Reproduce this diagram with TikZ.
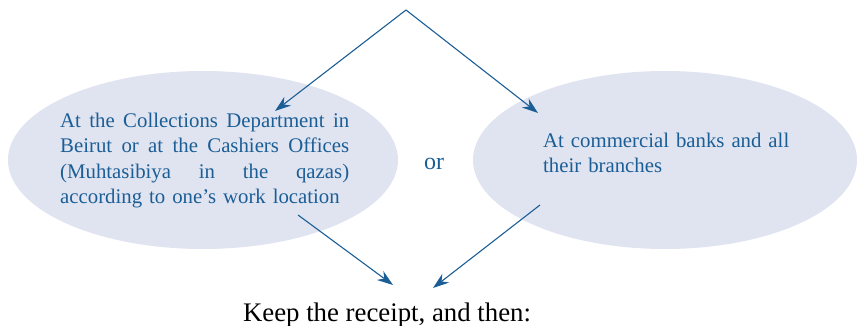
\documentclass[tikz,border=0pt]{standalone}
\usepackage{fontspec}
\setmainfont{Liberation Serif}
\usetikzlibrary{arrows.meta}
\definecolor{dblue}{HTML}{1B5E96}
\definecolor{ellfill}{HTML}{E0E4F0}
\newcommand{\jline}[1]{\leavevmode\hbox to 289pt{#1}}
\tikzset{
  link/.style={draw=dblue, line width=1.1pt, -{Stealth[length=16pt,width=11pt]}},
  txt/.style={text=dblue, font=\fontsize{20.8}{25.3}\selectfont, align=left, inner sep=0pt},
}
\begin{document}
\begin{tikzpicture}[x=1pt,y=-1pt]
\useasboundingbox (0,0) rectangle (857,326);
\fill[ellfill] (203,160) ellipse [x radius=195, y radius=89];
\fill[ellfill] (665,160) ellipse [x radius=192, y radius=89];
\node[txt, text width=289pt, anchor=north west] (lt) at (60,113) {\jline{At \hfill the \hfill Collections \hfill Department \hfill in}\\\jline{Beirut \hfill or \hfill at \hfill the \hfill Cashiers \hfill Offices}\\\jline{(Muhtasibiya \hfill in \hfill the \hfill qazas)}\\according to one’s work location};
\node[txt, text width=260pt, anchor=north west] (rt) at (543,133) {At commercial banks and all\\their branches};
\node[text=dblue, font=\fontsize{24}{28}\selectfont, inner sep=0pt, anchor=base] (or) at (434,169) {or};
\node[font=\fontsize{26.8}{30}\selectfont, inner sep=0pt, anchor=base] (keep) at (387,321) {Keep the receipt, and then:};
\coordinate (top) at (406,10);
\coordinate (la) at (275,111);
\coordinate (ra) at (538,113);
\coordinate (ls) at (298,215);
\coordinate (rs) at (540,205);
\coordinate (le) at (393,285);
\coordinate (re) at (433,288);
\draw[link] (top) -- (la);
\draw[link] (top) -- (ra);
\draw[link] (ls) -- (le);
\draw[link] (rs) -- (re);
\end{tikzpicture}
\end{document}
